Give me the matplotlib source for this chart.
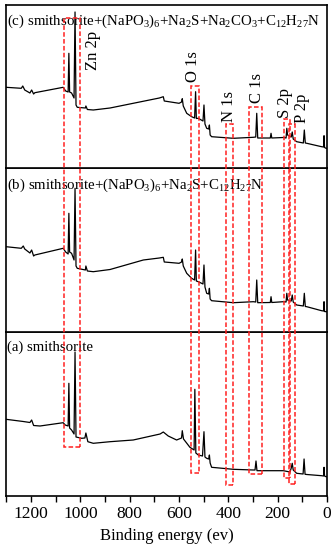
import matplotlib.pyplot as plt
from matplotlib.patches import Rectangle
from matplotlib.ticker import MultipleLocator

plt.rcParams['font.family'] = ['Liberation Serif', 'Noto Sans CJK SC']
plt.rcParams['mathtext.fontset'] = 'custom'
plt.rcParams['mathtext.rm'] = 'Liberation Serif'
plt.rcParams['mathtext.default'] = 'regular'

# binding energy (eV) and intensity (a.u.)
be_a = [1302, 1232, 1205, 1198, 1190, 1164, 1070, 1062, 1050, 1047, 1044, 1036, 1026, 1022, 1018,
        995, 982, 978, 970, 948, 880, 786, 677, 664, 644, 610, 590, 587, 582, 556, 539, 536, 532,
        522, 505, 499, 495, 488, 480, 477, 474, 468, 380, 299, 292, 288, 284, 177, 150, 145, 141,
        137, 123, 97, 93, 89, 82, 22, 14, 12, 10, 4, 0]
int_a = [76.7, 74.5, 73.5, 76, 70.5, 70, 73.3, 71, 70, 112.7, 68, 66, 62, 144, 59,
         57.7, 58, 63, 54.3, 52.7, 54.3, 56, 62, 64, 60, 56, 58, 65.3, 57, 48.7, 46, 106.7, 43,
         41, 40, 64.3, 39, 37.7, 37, 41, 33, 28.7, 26.7, 26, 26, 35, 25.3, 25.3, 24, 28, 32.7,
         26, 22.7, 22, 37, 21.7, 21.5, 20.3, 20, 28.7, 20, 19.3, 19.3]

be_b = [1302, 1240, 1232, 1226, 1205, 1198, 1190, 1185, 1070, 1060, 1050, 1047, 1044, 1036, 1026,
        1022, 1018, 1013, 980, 978, 972, 948, 880, 745, 680, 664, 660, 600, 590, 587, 583, 569,
        549, 537, 533, 530, 522, 503, 499, 495, 488, 480, 477, 474, 468, 380, 299, 289, 285, 281,
        230, 227, 224, 177, 166, 163, 160, 145, 141, 137, 123, 96, 92, 88, 82, 22, 14, 12, 10, 4, 0]
int_b = [85.3, 83.7, 86, 83, 79, 82, 76, 77, 83.7, 80, 78, 118.7, 80, 78.7, 72,
         143.7, 66, 63.7, 62, 66, 61, 60.3, 62.5, 72, 74, 74.7, 70, 68.7, 70, 73, 66, 58.7,
         53.7, 52, 82, 51, 50.3, 48, 67, 45, 38.7, 38, 43.7, 33, 31.3, 29.3, 30.3, 30, 52, 29.3,
         29.5, 35.3, 29.5, 30.3, 30, 38.7, 32, 31, 37, 30, 27, 26, 38.7, 25.5, 25.3, 21.3, 21, 30.3,
         20.5, 20.3, 20.3]

be_c = [1302, 1240, 1234, 1226, 1205, 1198, 1190, 1185, 1070, 1060, 1050, 1047, 1044, 1036, 1026,
        1022, 1018, 1013, 980, 978, 972, 948, 880, 786, 680, 664, 660, 600, 590, 587, 583, 569,
        549, 537, 533, 530, 522, 503, 499, 495, 488, 480, 477, 474, 468, 380, 299, 289, 285, 281,
        230, 227, 224, 177, 166, 163, 160, 145, 141, 137, 123, 96, 92, 88, 82, 22, 14, 12, 10, 4, 0]
int_c = [80.7, 79.7, 82, 78, 75, 78, 74, 75.3, 80.7, 77, 76, 114.7, 76, 75, 70,
         156, 63, 60.7, 60, 62, 58.5, 58, 60, 64.7, 70, 71.3, 67, 64.7, 66, 69.3, 62, 54.7,
         51.3, 50, 76.3, 49.5, 49.7, 47, 63, 44, 39.7, 39, 43, 33, 31.3, 29.7, 30.7, 31, 54.7, 30,
         30, 34.7, 30, 30.5, 30, 39.7, 33, 31, 36, 29, 26.3, 25, 38, 25, 24.7, 21.3, 21, 32.3,
         20.5, 19.7, 19.7]

panel_labels = ["(a) smithsorite",
                r"(b) smithsorite+(NaPO$_3$)$_6$+Na$_2$S+C$_{12}$H$_{27}$N",
                r"(c) smithsorite+(NaPO$_3$)$_6$+Na$_2$S+Na$_2$CO$_3$+C$_{12}$H$_{27}$N"]

# peak regions: BE range of each dashed box, its top/bottom (overlay units) and label spot
regions = ["Zn 2p", "O 1s", "N 1s", "C 1s", "S 2p", "P 2p"]
box_hi = [1067, 553, 411, 315, 173, 155]
box_lo = [1002, 518, 380, 264, 151, 130]
box_top = [478, 410, 372, 389, 377, 372]
box_bot = [49, 23, 11, 22, 18, 12]
label_be = [949, 544, 398, 284, 170, 101]
label_h = [446, 429, 390, 408, 393, 388]

fig = plt.figure(figsize=(3.33, 5.5), dpi=100)
left, width = 6 / 333, 321 / 333
bottoms = [54 / 550, 218 / 550, 382 / 550]
heights = [164 / 550, 164 / 550, 163 / 550]

for i, (be, inten) in enumerate([(be_a, int_a), (be_b, int_b), (be_c, int_c)]):
    ax = fig.add_axes([left, bottoms[i], width, heights[i]])
    ax.plot(be, inten, color="black", linewidth=0.9)
    ax.set_xlim(1302, 0)
    ax.set_ylim(0, heights[i] * 550)
    ax.set_yticks([])
    for s in ax.spines.values():
        s.set_linewidth(1.2)
    ax.text(0.004, 0.95, panel_labels[i], transform=ax.transAxes, fontsize=10.7, va="top", ha="left")
    if i == 0:
        ax.xaxis.set_major_locator(MultipleLocator(200))
        ax.xaxis.set_minor_locator(MultipleLocator(100))
        ax.tick_params(axis="x", which="both", direction="out", length=4, width=1, labelsize=12.5)
        ax.set_xlabel("Binding energy (ev)", fontsize=12, labelpad=4)
    else:
        ax.set_xticks([])

# overlay for the dashed boxes that run across all panels
ov = fig.add_axes([left, 54 / 550, width, 491 / 550])
ov.set_xlim(1302, 0)
ov.set_ylim(0, 491)
ov.axis("off")
for name, hi, lo, top, bot, lx, ly in zip(regions, box_hi, box_lo, box_top, box_bot, label_be, label_h):
    ov.add_patch(Rectangle((lo, bot), hi - lo, top - bot, fill=False, edgecolor="#ff2020",
                           linestyle=(0, (3, 1.5)), linewidth=1.1))
    ov.text(lx, ly, name, rotation=90, fontsize=12, ha="center", va="center")

plt.savefig("out.png", dpi=100)
